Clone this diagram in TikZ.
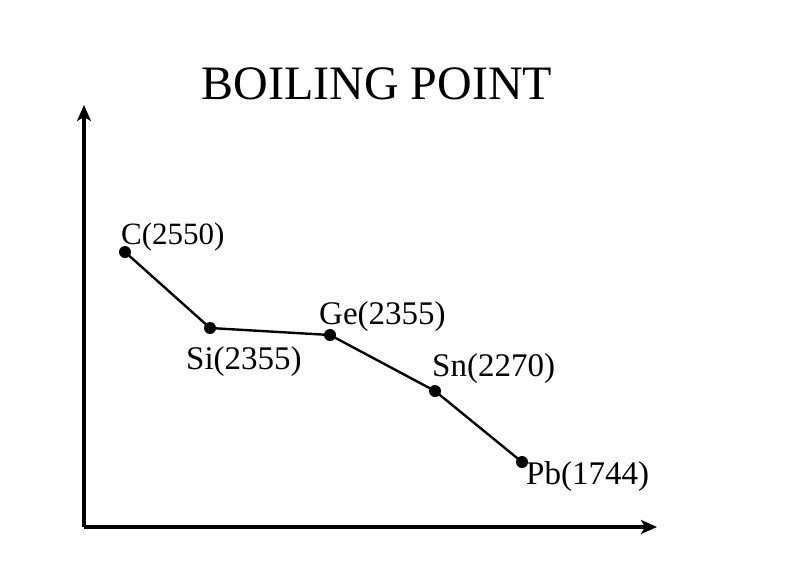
\documentclass[tikz,border=0pt]{standalone}
\usepackage{fontspec}
\setmainfont{Liberation Serif}
\usetikzlibrary{arrows.meta,positioning}

\tikzset{
  axis/.style={line width=3.2pt,-{Stealth[length=16pt,width=14pt,inset=4pt]}},
  curve/.style={line width=2.4pt},
  pt/.style={circle,fill=black,inner sep=0pt,minimum size=12pt},
  lbl/.style={font=\fontsize{33}{35}\selectfont,inner sep=0pt,anchor=base west},
}

\begin{document}
\begin{tikzpicture}[x=1pt,y=-1pt]
\useasboundingbox (0,0) rectangle (797,573);
% axes
\coordinate (o) at (84,527);
\coordinate (ytip) at (84,105);
\coordinate (xtip) at (657,527);
\draw[axis] (o) -- (ytip);
\draw[axis] (o) -- (xtip);
% title
\node[font=\fontsize{48}{50}\selectfont,inner sep=0pt,anchor=base] (title) at (377,99) {BOILING POINT};
% data points
\node[pt] (c) at (125,252) {};
\node[pt] (si) at (210,328) {};
\node[pt] (ge) at (330,335) {};
\node[pt] (sn) at (435,391) {};
\node[pt] (pb) at (522,462) {};
\draw[curve] (c.center) -- (si.center) -- (ge.center) -- (sn.center) -- (pb.center);
% labels
\node[lbl,font=\fontsize{31}{33}\selectfont] (lc) at (121,244) {C(2550)};
\node[lbl] (lsi) at (186,369) {Si(2355)};
\node[lbl] (lge) at (319,324) {Ge(2355)};
\node[lbl] (lsn) at (432,376) {Sn(2270)};
\node[lbl] (lpb) at (526,484) {Pb(1744)};
\end{tikzpicture}
\end{document}
